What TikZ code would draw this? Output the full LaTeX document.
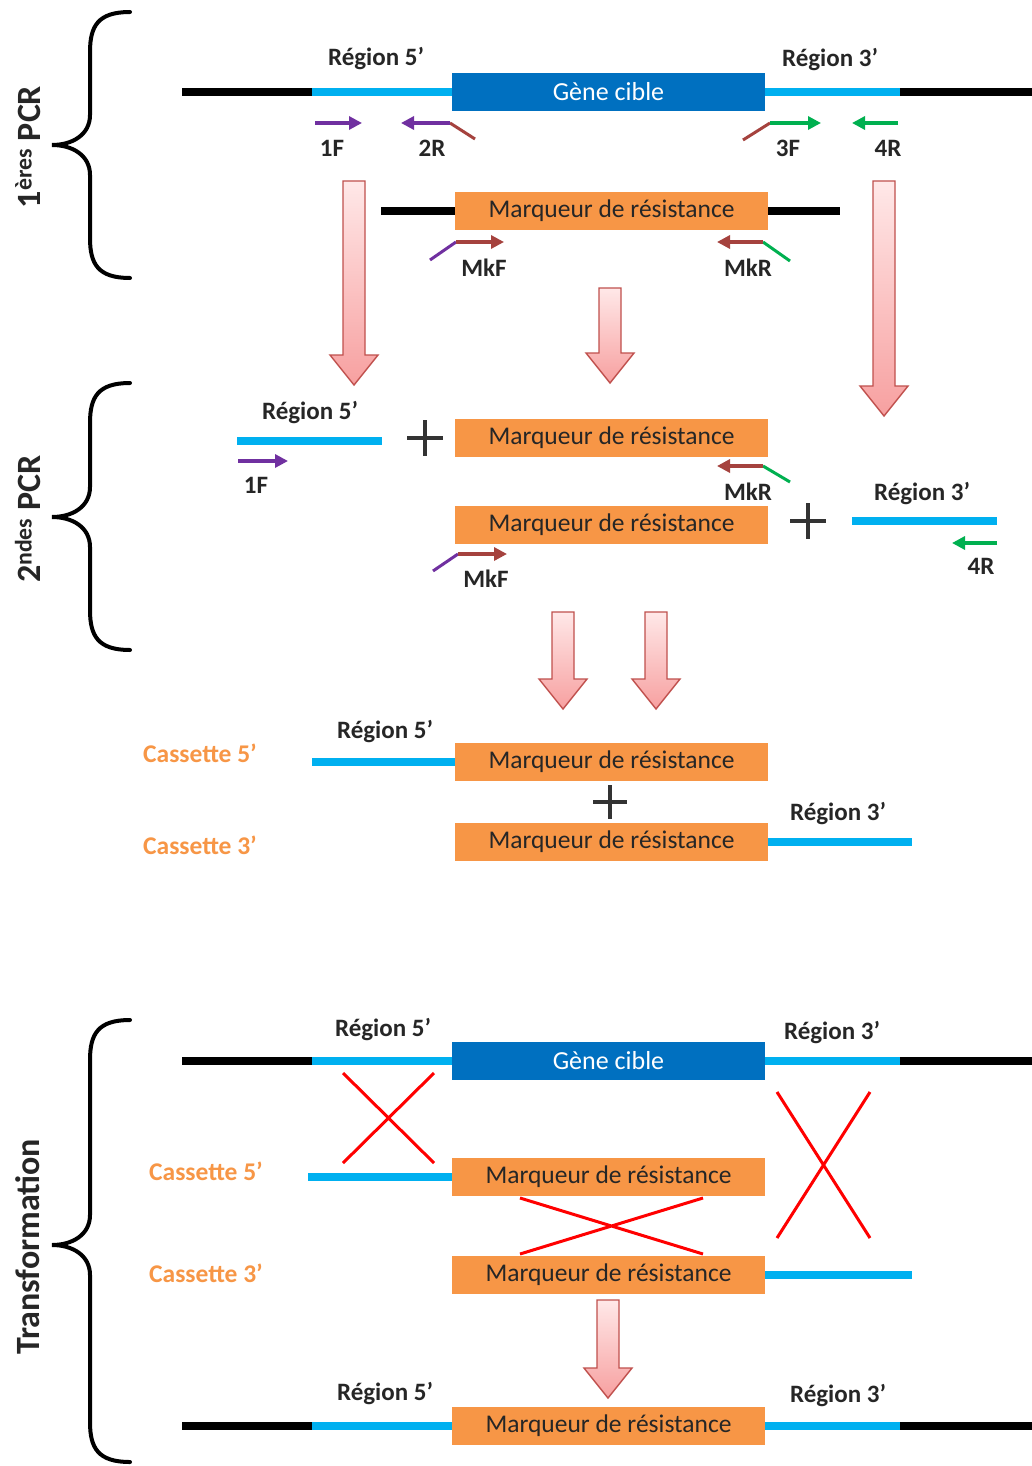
\documentclass[tikz,border=0pt]{standalone}
\usepackage{fontspec}
\setmainfont{Carlito}
\usetikzlibrary{arrows.meta,calc}
\definecolor{cyanc}{HTML}{00B0F0}
\definecolor{geneblue}{HTML}{0070C0}
\definecolor{orangec}{HTML}{F79646}
\definecolor{pinkbord}{HTML}{C0504D}
\definecolor{pinktop}{HTML}{FFE8E8}
\definecolor{pinkbot}{HTML}{F7A0A0}
\definecolor{purplec}{HTML}{7030A0}
\definecolor{brownc}{HTML}{A5423E}
\definecolor{greenc}{HTML}{00B050}
\tikzset{
  dnablack/.style={line width=8.5pt, black},
  dnacyan/.style={line width=8.5pt, cyanc},
  genebox/.style={fill=geneblue, minimum width=313pt, minimum height=38pt, inner sep=0pt, text=white, font=\fontsize{26}{28}\selectfont},
  markbox/.style={fill=orangec, minimum width=313pt, minimum height=38pt, inner sep=0pt, text=black!85, font=\fontsize{25.5}{28}\selectfont},
  lab/.style={inner sep=0pt, text=black!85, font=\bfseries\fontsize{25}{28}\selectfont},
  caslab/.style={inner sep=0pt, text=orangec, font=\bfseries\fontsize{25.5}{28}\selectfont},
  sidelab/.style={inner sep=0pt, rotate=90, text=black!85, font=\bfseries\fontsize{34}{38}\selectfont},
  primer/.style={line width=3.2pt, -{Triangle[length=13pt,width=13pt]}},
  tail/.style={line width=3pt},
  bracepath/.style={line width=4pt, black, line cap=round},
  pinkarr/.style={draw=pinkbord, line width=1.4pt, top color=pinktop, bottom color=pinkbot, line join=miter},
  crossline/.style={line width=3pt, red},
  plussign/.style={line width=4.5pt, black!80},
}
\newcommand{\pinkarrow}[3]{% x, ytop, ytip
  \path[pinkarr] ({#1-11},#2) -- ({#1+11},#2) -- ({#1+11},{#3-30}) -- ({#1+24},{#3-30}) -- (#1,#3) -- ({#1-24},{#3-30}) -- ({#1-11},{#3-30}) -- cycle;}
\newcommand{\mybrace}[4]{% x-vertical, ytop, ytip, ybottom ; tip x = vertical-38
  \draw[bracepath] ({#1+40},#2) .. controls ({#1+8},#2) and (#1,{#2+14}) .. (#1,{#2+40})
    -- (#1,{#3-30}) .. controls (#1,{#3-10}) and ({#1-18},#3) .. ({#1-38},#3)
    .. controls ({#1-18},#3) and (#1,{#3+10}) .. (#1,{#3+30})
    -- (#1,{#4-40}) .. controls (#1,{#4-14}) and ({#1+8},#4) .. ({#1+40},#4);}
\newcommand{\plusat}[3]{% x,y,half size
  \draw[plussign] ({#1-#3},#2) -- ({#1+#3},#2) ({#1},{#2-#3}) -- ({#1},{#2+#3});}
\begin{document}
\begin{tikzpicture}[x=1pt,y=-1pt]
\useasboundingbox (0,0) rectangle (1032,1466);
\fill[white] (0,0) rectangle (1032,1466);

% ================= Section 1 : 1eres PCR =================
\mybrace{90}{12}{145}{278}
\node[sidelab] (s1) at (28,147) {1\textsuperscript{ères} PCR};

\coordinate (a1) at (182,92); \coordinate (a2) at (312,92);
\coordinate (a3) at (900,92); \coordinate (a4) at (1032,92);
\node[genebox] (g1) at (608.5,92) {Gène cible};
\draw[dnablack] (a1) -- (a2);
\draw[dnacyan] (a2) -- (g1.west);
\draw[dnacyan] (g1.east) -- (a3);
\draw[dnablack] (a3) -- (a4);
\node[lab] (r5a) at (376,59) {Région 5’};
\node[lab] (r3a) at (830,60) {Région 3’};

% primers
\coordinate (p1s) at (315,123); \coordinate (p1e) at (362,123);
\draw[primer, purplec] (p1s) -- (p1e);
\node[lab] (l1F) at (332,148) {1F};
\coordinate (p2t) at (475,139); \coordinate (p2s) at (450,123); \coordinate (p2e) at (401,123);
\draw[tail, brownc] (p2t) -- (p2s);
\draw[primer, purplec] (p2s) -- (p2e);
\node[lab] (l2R) at (432,148) {2R};
\coordinate (p3t) at (743,140); \coordinate (p3s) at (770,123); \coordinate (p3e) at (821,123);
\draw[tail, brownc] (p3t) -- (p3s);
\draw[primer, greenc] (p3s) -- (p3e);
\node[lab] (l3F) at (788,148) {3F};
\coordinate (p4s) at (898,123); \coordinate (p4e) at (852,123);
\draw[primer, greenc] (p4s) -- (p4e);
\node[lab] (l4R) at (888,148) {4R};

% marker row
\node[markbox] (m1) at (611.5,211) {Marqueur de résistance};
\coordinate (b1) at (381,211); \coordinate (b2) at (840,211);
\draw[dnablack] (b1) -- (m1.west);
\draw[dnablack] (m1.east) -- (b2);
\coordinate (mkft) at (430,260); \coordinate (mkfs) at (456,242); \coordinate (mkfe) at (504,242);
\draw[tail, purplec] (mkft) -- (mkfs);
\draw[primer, brownc] (mkfs) -- (mkfe);
\node[lab] (lmkf1) at (484,268) {MkF};
\coordinate (mkrt) at (790,261); \coordinate (mkrs) at (763,242); \coordinate (mkre) at (717,242);
\draw[tail, greenc] (mkrt) -- (mkrs);
\draw[primer, brownc] (mkrs) -- (mkre);
\node[lab] (lmkr1) at (748,268) {MkR};

\pinkarrow{354}{181}{385}
\pinkarrow{610}{288}{383}
\pinkarrow{884}{181}{416}

% ================= Section 2 : 2ndes PCR =================
\mybrace{90}{383}{517}{650}
\node[sidelab] (s2) at (28,519) {2\textsuperscript{ndes} PCR};

\node[lab] (r5b) at (310,413) {Région 5’};
\coordinate (c1) at (237,441); \coordinate (c2) at (382,441);
\draw[dnacyan] (c1) -- (c2);
\coordinate (q1s) at (238,461); \coordinate (q1e) at (288,461);
\draw[primer, purplec] (q1s) -- (q1e);
\node[lab] (l1Fb) at (256,485) {1F};
\plusat{425}{438}{18}

\node[markbox] (m2) at (611.5,438) {Marqueur de résistance};
\coordinate (mkrt2) at (790,482); \coordinate (mkrs2) at (763,466); \coordinate (mkre2) at (717,466);
\draw[tail, greenc] (mkrt2) -- (mkrs2);
\draw[primer, brownc] (mkrs2) -- (mkre2);
\node[lab] (lmkr2) at (748,492) {MkR};

\node[markbox] (m3) at (611.5,525) {Marqueur de résistance};
\coordinate (mkft2) at (433,571); \coordinate (mkfs2) at (458,554); \coordinate (mkfe2) at (507,554);
\draw[tail, purplec] (mkft2) -- (mkfs2);
\draw[primer, brownc] (mkfs2) -- (mkfe2);
\node[lab] (lmkf2) at (486,579) {MkF};
\plusat{808}{521}{18}

\node[lab] (r3b) at (922,494) {Région 3’};
\coordinate (c3) at (852,521); \coordinate (c4) at (997,521);
\draw[dnacyan] (c3) -- (c4);
\coordinate (q4s) at (997,543); \coordinate (q4e) at (952,543);
\draw[primer, greenc] (q4s) -- (q4e);
\node[lab] (l4Rb) at (981,566) {4R};

\pinkarrow{563}{612}{709}
\pinkarrow{656}{612}{709}

% ================= Section 3 : cassettes =================
\node[caslab] (cas5a) at (200,753) {Cassette 5’};
\node[caslab] (cas3a) at (200,845) {Cassette 3’};
\node[lab] (r5c) at (385,732) {Région 5’};
\node[markbox] (m4) at (611.5,762) {Marqueur de résistance};
\coordinate (d1) at (312,762);
\draw[dnacyan] (d1) -- (m4.west);
\plusat{610}{802}{17}
\node[markbox] (m5) at (611.5,842) {Marqueur de résistance};
\coordinate (d2) at (912,842);
\draw[dnacyan] (m5.east) -- (d2);
\node[lab] (r3c) at (838,814) {Région 3’};

% ================= Section 4 : Transformation =================
\mybrace{90}{1020}{1245}{1462}
\node[sidelab] (s4) at (28,1247) {Transformation};

\coordinate (e1) at (182,1061); \coordinate (e2) at (312,1061);
\coordinate (e3) at (900,1061); \coordinate (e4) at (1032,1061);
\node[genebox] (g2) at (608.5,1061) {Gène cible};
\draw[dnablack] (e1) -- (e2);
\draw[dnacyan] (e2) -- (g2.west);
\draw[dnacyan] (g2.east) -- (e3);
\draw[dnablack] (e3) -- (e4);
\node[lab] (r5d) at (383,1030) {Région 5’};
\node[lab] (r3d) at (832,1033) {Région 3’};

\node[caslab] (cas5b) at (206,1171) {Cassette 5’};
\node[markbox] (m6) at (608.5,1177) {Marqueur de résistance};
\coordinate (f1) at (308,1177);
\draw[dnacyan] (f1) -- (m6.west);

\node[caslab] (cas3b) at (206,1273) {Cassette 3’};
\node[markbox] (m7) at (608.5,1275) {Marqueur de résistance};
\coordinate (f2) at (912,1275);
\draw[dnacyan] (m7.east) -- (f2);

% crossovers
\draw[crossline] (343,1073) -- (434,1163) (434,1073) -- (343,1163);
\draw[crossline] (777,1092) -- (870,1238) (870,1092) -- (777,1238);
\draw[crossline] (520,1198) -- (703,1254) (703,1198) -- (520,1254);

\pinkarrow{608}{1300}{1398}

\coordinate (h1) at (182,1426); \coordinate (h2) at (312,1426);
\coordinate (h3) at (900,1426); \coordinate (h4) at (1032,1426);
\node[markbox] (m8) at (608.5,1426) {Marqueur de résistance};
\draw[dnablack] (h1) -- (h2);
\draw[dnacyan] (h2) -- (m8.west);
\draw[dnacyan] (m8.east) -- (h3);
\draw[dnablack] (h3) -- (h4);
\node[lab] (r5e) at (385,1394) {Région 5’};
\node[lab] (r3e) at (838,1396) {Région 3’};
\end{tikzpicture}
\end{document}
